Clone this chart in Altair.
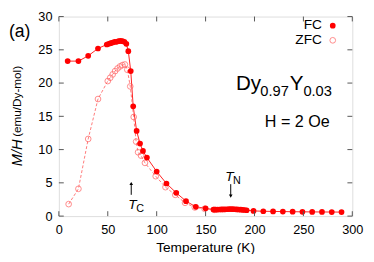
import altair as alt
import pandas as pd

# ---- data ----
fc_T = [9, 20, 30, 40, 49, 51, 53, 55, 57, 59, 61, 63, 65, 67, 69, 71, 73.5, 76, 79.5, 83, 86, 90,
        100, 110, 120, 130, 140, 150, 158, 160, 162, 164, 166, 168, 170, 172, 174, 176, 178, 180,
        182, 184, 186, 188, 190, 192, 199, 209, 219, 229, 239, 249, 259, 269, 279, 289]
fc_M = [23.3, 23.3, 24.1, 25.2, 25.8, 25.9, 26.0, 26.1, 26.2, 26.2, 26.3, 26.35, 26.3, 26.2, 25.9, 24.8, 21.8, 16.5, 12.8, 10.9, 9.8, 8.8,
        6.7, 4.9, 3.5, 2.25, 1.4, 1.17, 0.98, 0.97, 0.98, 0.99, 1.0, 1.01, 1.02, 1.03, 1.05, 1.05, 1.04, 1.03,
        1.01, 0.99, 0.97, 0.95, 0.92, 0.88, 0.78, 0.73, 0.7, 0.68, 0.66, 0.64, 0.63, 0.62, 0.61, 0.6]

zfc_T = [10, 20, 30, 40, 50, 52.5, 55, 57.5, 60, 62.5, 65, 67.5, 70, 73, 76.5, 79, 81, 84, 88,
         99, 109, 119, 129, 139, 149, 159]
zfc_M = [1.8, 4.1, 11.6, 17.6, 20.3, 20.8, 21.3, 21.8, 22.2, 22.5, 22.7, 22.8, 22.0, 19.5, 14.9, 11.2, 9.6, 9.1, 8.0,
         6.0, 4.35, 3.2, 2.0, 1.3, 1.1, 0.95]

x_ticks = [0, 50, 100, 150, 200, 250, 300]
y_ticks = [0, 5, 10, 15, 20, 25, 30]

# arrows: T position, tail value, head value
arrow_T = [74, 175.7]
arrow_tail = [3.2, 4.8]
arrow_head = [4.9, 3.0]
arrow_shape = ["triangle-up", "triangle-down"]

FONT = "Liberation Sans"
OY0 = 13          # reference page position of the plot's top
OX, OY = 60, 14   # page position of plot origin
W, H = 300, 218 - OY

fc = pd.DataFrame({"T": fc_T, "M": fc_M})
zfc = pd.DataFrame({"T": zfc_T, "M": zfc_M})
xt = pd.DataFrame({"T": x_ticks})
yt = pd.DataFrame({"M": y_ticks})
arr = pd.DataFrame({"T": arrow_T, "M": arrow_tail, "b": arrow_head, "s": arrow_shape})
one = pd.DataFrame({"k": [0]})

xs = alt.Scale(domain=[0, 300], nice=False)
ys = alt.Scale(domain=[0, 30], nice=False)

xax = alt.Axis(values=x_ticks, ticks=False, domain=False, grid=False, labelFont=FONT,
               labelFontSize=13, labelColor="black", labelPadding=8, title=None, labelFlush=False)
yax = alt.Axis(values=y_ticks, ticks=False, domain=False, grid=False, labelFont=FONT,
               labelFontSize=13, labelColor="black", labelPadding=7, title=None, labelFlush=False)

X = alt.X("T:Q", scale=xs, axis=xax)
Y = alt.Y("M:Q", scale=ys, axis=yax)

fc_line = alt.Chart(fc).mark_line(color="#ff2020", strokeWidth=1).encode(x=X, y=Y)
fc_pts = alt.Chart(fc).mark_circle(color="#ff0000", size=34, opacity=1).encode(x=X, y=Y)
zfc_line = alt.Chart(zfc).mark_line(color="#ff7a7a", strokeWidth=1, strokeDash=[3, 2]).encode(x=X, y=Y)
zfc_pts = alt.Chart(zfc).mark_point(shape="circle", filled=False, color="#ff5a5a", size=34, strokeWidth=1).encode(x=X, y=Y)

TICK = "#555555"
xt_bot = alt.Chart(xt).mark_rule(color=TICK, strokeWidth=1).encode(
    x=X, y=alt.value(H), y2=alt.value(H - 5))
xt_top = alt.Chart(xt).mark_rule(color=TICK, strokeWidth=1).encode(
    x=X, y=alt.value(0), y2=alt.value(5))
yt_left = alt.Chart(yt).mark_rule(color=TICK, strokeWidth=1).encode(
    y=Y, x=alt.value(0), x2=alt.value(5))
yt_right = alt.Chart(yt).mark_rule(color=TICK, strokeWidth=1).encode(
    y=Y, x=alt.value(W - 5), x2=alt.value(W))

arr_rule = alt.Chart(arr).mark_rule(color="black", strokeWidth=1).encode(x=X, y=Y, y2="b:Q")
arr_head = alt.Chart(arr).mark_point(filled=True, color="black", size=14, opacity=1).encode(
    x=X, y=alt.Y("b:Q", scale=ys, axis=yax),
    shape=alt.Shape("s:N", scale=None, legend=None))


def txt(s, x, y, size, align="left", baseline="alphabetic", style="normal", angle=0, color="black"):
    kw = dict(font=FONT, fontSize=size, align=align, baseline=baseline, fontStyle=style, color=color)
    if angle:
        kw["angle"] = angle
    return alt.Chart(one).mark_text(**kw).encode(
        x=alt.value(x - OX), y=alt.value(y - OY), text=alt.value(s))


texts = [
    txt("(a)", 9, 35, 18),
    txt("M/H", 17.5, 167, 15, baseline="middle", style="italic", angle=270),
    txt("(emu/Dy-mol)", 17.5, 137, 12, baseline="middle", angle=270),
    txt("Temperature (K)", 210, 255, 14, align="center"),
    txt("Dy", 241, 89, 21),
    txt("0.97", 266, 95, 15),
    txt("Y", 296, 89, 21),
    txt("0.03", 310, 95, 15),
    txt("H = 2 Oe", 337, 127, 16.5, align="right"),
    txt("FC", 329, 27, 14, align="right"),
    txt("ZFC", 329, 42.5, 14, align="right"),
    txt("T", 131, 211, 14, style="italic"),
    txt("C", 139, 214, 11),
    txt("T", 230, 182, 14, style="italic"),
    txt("N", 238, 185, 11),
]

leg_fc = alt.Chart(one).mark_circle(color="#ff0000", size=34, opacity=1).encode(
    x=alt.value(340 - OX), y=alt.value(23.3 - OY))
leg_zfc = alt.Chart(one).mark_point(shape="circle", filled=False, color="#ff5a5a", size=34, strokeWidth=1).encode(
    x=alt.value(340 - OX), y=alt.value(38.3 - OY))

chart = alt.layer(
    fc_line, zfc_line, zfc_pts, fc_pts,
    xt_bot, xt_top, yt_left, yt_right,
    arr_rule, arr_head, leg_fc, leg_zfc, *texts
).properties(
    width=W, height=H,
    autosize=alt.AutoSizeParams(type="none"),
    padding={"left": OX - 8, "top": OY - 8, "right": 14, "bottom": 36},
).configure_view(stroke="#555555", strokeWidth=1).configure(background="white")

chart.save("out.html", embed_options={"renderer": "svg", "actions": False})
